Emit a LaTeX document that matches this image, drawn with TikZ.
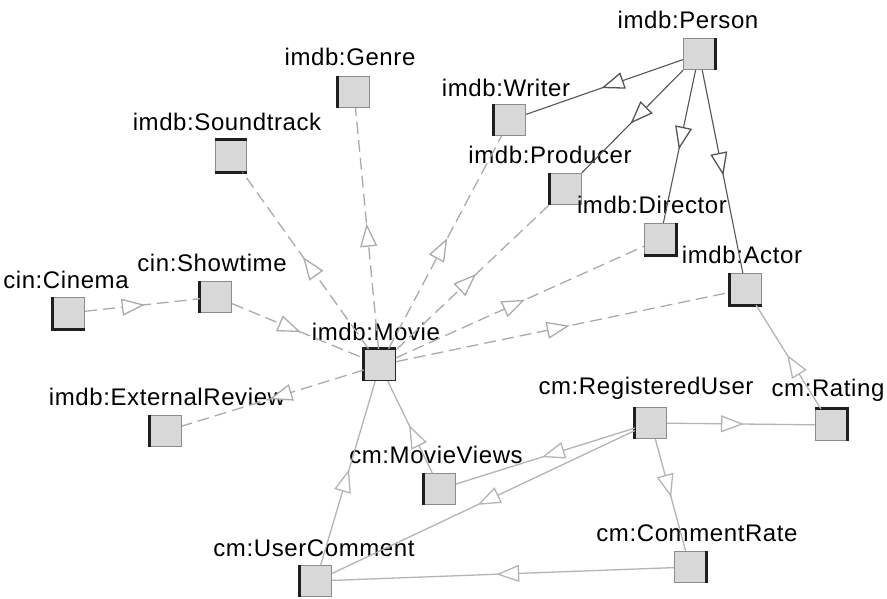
\documentclass[tikz,border=0pt]{standalone}
\usepackage{fontspec}
\setmainfont{Liberation Sans}
\newfontfamily\lblfont[LetterSpace=2.5]{Liberation Sans}
\usetikzlibrary{arrows.meta,decorations.markings}
\definecolor{boxfill}{HTML}{D8D8D8}
\definecolor{boxline}{HTML}{8C8C8C}
\definecolor{dashline}{HTML}{ABABAB}
\definecolor{darkline}{HTML}{555555}
\definecolor{lightline}{HTML}{B4B4B4}
\tikzset{
  cls/.style={draw=boxline, fill=boxfill, line width=1.3pt, minimum size=31pt, inner sep=0pt},
  mcls/.style={cls, draw=black!85},
  lbl/.style={font=\lblfont\fontsize{24}{26}\selectfont, inner sep=0pt, text=black},
  thickside/.style={draw=black!88, line width=3pt, line cap=butt},
  midarrow/.style={postaction={decorate}, decoration={markings, mark=at position 0.52 with {\arrow{Triangle[length=23pt, width=17pt, fill=white, line width=1.3pt]}}}},
  dashedge/.style={draw=dashline, line width=1.3pt, dash pattern=on 12pt off 6pt, midarrow},
  darkedge/.style={draw=darkline, line width=1.1pt, midarrow},
  lightedge/.style={draw=lightline, line width=1.3pt, midarrow}
}
\begin{document}
\begin{tikzpicture}[x=1pt,y=-1pt]
\useasboundingbox (0,0) rectangle (887,598);
\fill[white] (0,0) rectangle (887,598);

% class squares
\node[cls] (person) at (699,54) {};
\node[cls] (writer) at (510,120) {};
\node[cls] (producer) at (566,189) {};
\node[cls] (director) at (660,239) {};
\node[cls] (actor) at (746,289) {};
\node[cls] (rating) at (831,425) {};
\node[cls] (reguser) at (651,423) {};
\node[cls] (commentrate) at (690,567) {};
\node[cls] (usercomment) at (316,581) {};
\node[cls] (movieviews) at (440,489) {};
\node[cls] (extreview) at (166,431) {};
\node[mcls] (movie) at (380,365) {};
\node[cls] (showtime) at (216,297) {};
\node[cls] (cinema) at (69,313) {};
\node[cls] (soundtrack) at (231,156) {};
\node[cls] (genre) at (354,92) {};

% thick dark sides
\draw[thickside] (person.north east) -- (person.south east);
\draw[thickside] (writer.north west) -- (writer.south west);
\draw[thickside] (producer.north west) -- (producer.south west);
\draw[thickside] (director.north east) -- (director.south east) -- (director.south west);
\draw[thickside] (actor.north west) -- (actor.south west) -- (actor.south east);
\draw[thickside] (rating.north west) -- (rating.north east) -- (rating.south east);
\draw[thickside] (reguser.north west) -- (reguser.south west);
\draw[thickside] (commentrate.north east) -- (commentrate.south east);
\draw[thickside] (usercomment.north west) -- (usercomment.south west);
\draw[thickside] (movieviews.north west) -- (movieviews.south west);
\draw[thickside] (extreview.north west) -- (extreview.south west);
\draw[thickside] (movie.south west) -- (movie.north west) -- (movie.north east);
\draw[thickside] (showtime.north west) -- (showtime.south west);
\draw[thickside] (cinema.north west) -- (cinema.south west) -- (cinema.south east);
\draw[thickside] (soundtrack.north west) -- (soundtrack.north east);
\draw[thickside] (soundtrack.south west) -- (soundtrack.south east);
\draw[thickside] (genre.north west) -- (genre.south west);

% labels
\node[lbl] (lperson) at (688,20) {imdb:Person};
\node[lbl] (lwriter) at (506,88) {imdb:Writer};
\node[lbl] (lproducer) at (550,155) {imdb:Producer};
\node[lbl] (ldirector) at (652,205) {imdb:Director};
\node[lbl] (lactor) at (742,255) {imdb:Actor};
\node[lbl] (lrating) at (828,390) {cm:Rating};
\node[lbl] (lreguser) at (646,388) {cm:RegisteredUser};
\node[lbl] (lcommentrate) at (697,533) {cm:CommentRate};
\node[lbl] (lusercomment) at (314,548) {cm:UserComment};
\node[lbl] (lmovieviews) at (436,455) {cm:MovieViews};
\node[lbl] (lextreview) at (167,397) {imdb:ExternalReview};
\node[lbl] (lmovie) at (376,332) {imdb:Movie};
\node[lbl] (lshowtime) at (212,263) {cin:Showtime};
\node[lbl] (lcinema) at (66,280) {cin:Cinema};
\node[lbl] (lsoundtrack) at (227,122) {imdb:Soundtrack};
\node[lbl] (lgenre) at (350,57) {imdb:Genre};

% dashed movie relations
\draw[dashedge] (cinema) -- (showtime);
\draw[dashedge] (showtime) -- (movie);
\draw[dashedge] (movie) -- (soundtrack);
\draw[dashedge] (movie) -- (genre);
\draw[dashedge] (movie) -- (writer);
\draw[dashedge] (movie) -- (producer);
\draw[dashedge] (movie) -- (director);
\draw[dashedge] (movie) -- (actor);
\draw[dashedge] (movie) -- (extreview);

% person subclasses
\draw[darkedge] (person) -- (writer);
\draw[darkedge] (person) -- (producer);
\draw[darkedge] (person) -- (director);
\draw[darkedge] (person) -- (actor);

% cm relations
\draw[lightedge] (rating) -- (actor);
\draw[lightedge] (reguser) -- (rating);
\draw[lightedge] (reguser) -- (movieviews);
\draw[lightedge] (reguser) -- (usercomment);
\draw[lightedge] (reguser) -- (commentrate);
\draw[lightedge] (commentrate) -- (usercomment);
\draw[lightedge] (usercomment) -- (movie);
\draw[lightedge] (movieviews) -- (movie);
\end{tikzpicture}
\end{document}
